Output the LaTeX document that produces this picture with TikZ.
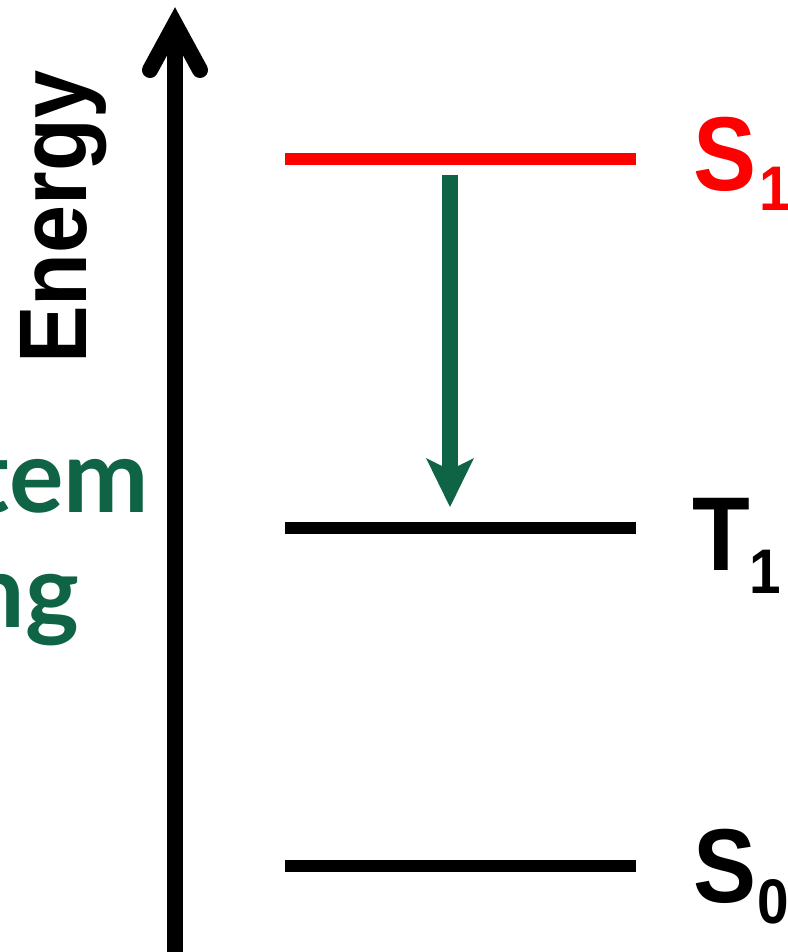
\documentclass[tikz,border=0pt]{standalone}
\usepackage{fontspec}
\setmainfont{Liberation Sans}
\newfontfamily\lblfont[FakeStretch=0.9]{Liberation Sans Bold}
\newfontfamily\isofont{Lato Bold}
\definecolor{iscgreen}{RGB}{16,100,70}
\definecolor{s1red}{RGB}{255,0,0}
\tikzset{
  level/.style={line width=12pt},
  axisline/.style={line width=16pt, black},
  statelbl/.style={anchor=base west, inner sep=0pt, font=\lblfont\fontsize{105}{105}\selectfont},
}
\begin{document}
\begin{tikzpicture}[x=1pt,y=-1pt]
\useasboundingbox (0,0) rectangle (787,952);
\clip (0,0) rectangle (787,952);
\fill[white] (0,0) rectangle (787,952);
% axis
\coordinate (axbot) at (175,960);
\coordinate (axtop) at (175,24);
\coordinate (axl) at (150,70);
\coordinate (axr) at (200,70);
\draw[axisline] (axbot) -- (axtop);
\draw[axisline, line cap=round, line join=miter] (axl) -- (axtop) -- (axr);
\node[rotate=90, anchor=base west, inner sep=0pt, font=\lblfont\fontsize{96}{96}\selectfont] (energy) at (86,364) {Energy};
% green text
\node[anchor=base east, inner sep=0pt, text=iscgreen, font=\isofont\fontsize{102}{102}\selectfont] (isc1) at (149,512) {Intersystem};
\node[anchor=base east, inner sep=0pt, text=iscgreen, font=\isofont\fontsize{102}{102}\selectfont] (isc2) at (79,627) {crossing};
% levels
\coordinate (s1a) at (285,159); \coordinate (s1b) at (636,159);
\coordinate (t1a) at (285,528); \coordinate (t1b) at (636,528);
\coordinate (s0a) at (285,866); \coordinate (s0b) at (636,866);
\draw[level, s1red] (s1a) -- (s1b);
\draw[level, black] (t1a) -- (t1b);
\draw[level, black] (s0a) -- (s0b);
% labels
\node[statelbl, text=s1red] (S1) at (693,190) {S\kern3pt\raisebox{-20pt}{\fontsize{63}{63}\selectfont 1}};
\node[statelbl] (T1) at (692,570) {T\kern0pt\raisebox{-23pt}{\fontsize{63}{63}\selectfont 1}};
\node[statelbl] (S0) at (693,902) {S\kern1pt\raisebox{-21pt}{\fontsize{63}{63}\selectfont 0}};
% ISC arrow
\coordinate (isctop) at (450,175);
\coordinate (iscshaftend) at (450,470);
\coordinate (isctip) at (450,507);
\draw[line width=16pt, iscgreen] (isctop) -- (iscshaftend);
\fill[iscgreen] (isctip) -- (426,458) -- (450,470) -- (474,458) -- cycle;
\end{tikzpicture}
\end{document}
